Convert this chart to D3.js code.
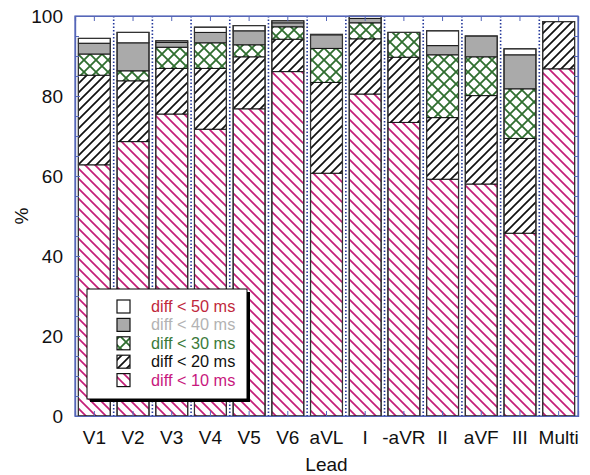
<!DOCTYPE html>
<html><head><meta charset="utf-8">
<script src="https://cdn.jsdelivr.net/npm/d3@7"></script>
<style>
body{margin:0;background:#fff;}
svg{display:block;font-family:"Liberation Sans",Arial,Helvetica,sans-serif;}
</style></head>
<body><svg id="c" width="590" height="475"></svg>
<script>
// Categories (leads)
const leads = ["V1","V2","V3","V4","V5","V6","aVL","I","-aVR","II","aVF","III","Multi"];
// Cumulative percentages: share of beats with |diff| below the threshold
const lt10 = [62.8,68.6,75.5,71.7,76.8,86.1,60.7,80.5,73.4,59.2,58.0,45.7,86.8];
const lt20 = [85.2,83.8,86.9,86.9,89.8,94.2,83.4,94.3,89.7,74.6,80.1,69.4,98.6];
const lt30 = [90.5,86.3,92.2,93.3,92.8,97.3,91.9,98.3,95.9,90.3,89.8,81.8,98.6];
const lt40 = [93.2,93.3,93.4,95.9,96.3,98.3,95.3,99.4,95.9,92.6,95.0,90.3,98.6];
const lt50 = [94.4,95.9,93.8,97.2,97.6,98.8,95.4,99.9,95.9,96.3,95.0,91.8,98.6];
const seriesNames = ["diff < 10 ms","diff < 20 ms","diff < 30 ms","diff < 40 ms","diff < 50 ms"];
const yTicks = [0,20,40,60,80,100];

const svg = d3.select("#c");
const L = 75, R = 578, T = 16, B = 416;
const x = d3.scaleBand().domain(leads).range([L,R]).paddingInner(0.175).paddingOuter(0.0875);
const y = d3.scaleLinear().domain([0,100]).range([B,T]);

const defs = svg.append("defs");
function hatch(id, size, d, color, w, bg){
  const p = defs.append("pattern").attr("id",id).attr("patternUnits","userSpaceOnUse")
    .attr("width",size).attr("height",size);
  p.append("rect").attr("width",size).attr("height",size).attr("fill",bg||"#fff");
  p.append("path").attr("d",d).attr("stroke",color).attr("stroke-width",w).attr("fill","none");
}
const s10=10, s20=9, s30=12;
hatch("p10", s10, `M0,0L${s10},${s10}M${-s10/2},${s10/2}L${s10/2},${s10*1.5}M${s10/2},${-s10/2}L${s10*1.5},${s10/2}`, "#c41e78", 1.7);
hatch("p20", s20, `M0,${s20}L${s20},0M${-s20/2},${s20/2}L${s20/2},${-s20/2}M${s20/2},${s20*1.5}L${s20*1.5},${s20/2}`, "#111", 1.7);
hatch("p30", s30, `M0,0L${s30},${s30}M0,${s30}L${s30},0`, "#2f6e2f", 1.8);
const fills = ["url(#p10)","url(#p20)","url(#p30)","#aaaaaa","#ffffff"];
const textColors = ["#c8187e","#111111","#3a7a3a","#b3b3b3","#c0283c"];

// frame
svg.append("rect").attr("x",L).attr("y",T).attr("width",R-L).attr("height",B-T)
  .attr("fill","none").attr("stroke","#5566b8").attr("stroke-width",1.2);

// dotted separators between categories
const step = x.step();
const seps = leads.slice(1).map(c => x(c) - step*x.paddingInner()/2);
svg.append("g").selectAll("line").data(seps).join("line")
  .attr("x1",d=>d).attr("x2",d=>d).attr("y1",T).attr("y2",B)
  .attr("stroke","#24389a").attr("stroke-width",1.6).attr("stroke-dasharray","1.5,2");

// stacked bars
const levels = [lt10,lt20,lt30,lt40,lt50];
const segs = [];
leads.forEach((c,i)=>{
  let prev = 0;
  levels.forEach((arr,k)=>{
    const v = arr[i];
    segs.push({c, k, y0:prev, y1:v});
    prev = Math.max(prev, v);
  });
});
const gBars = svg.append("g");
gBars.selectAll("rect.seg").data(segs.filter(s=>s.y1>s.y0)).join("rect").attr("class","seg")
  .attr("x",d=>x(d.c)).attr("width",x.bandwidth())
  .attr("y",d=>y(d.y1)).attr("height",d=>y(d.y0)-y(d.y1))
  .attr("fill",d=>fills[d.k]).attr("stroke","#111").attr("stroke-width",1);
// outer bar outline
gBars.selectAll("rect.out").data(leads).join("rect").attr("class","out")
  .attr("x",d=>x(d)).attr("width",x.bandwidth())
  .attr("y",(d,i)=>y(Math.max(lt10[i],lt20[i],lt30[i],lt40[i],lt50[i])))
  .attr("height",(d,i)=>B-y(Math.max(lt10[i],lt20[i],lt30[i],lt40[i],lt50[i])))
  .attr("fill","none").attr("stroke","#333").attr("stroke-width",1.2);

// axes
const fontSize = 19;
const minor = d3.range(0,101,5);
svg.append("g").attr("transform",`translate(${L},0)`)
  .call(d3.axisLeft(y).tickValues(yTicks).tickSize(-5).tickPadding(12).tickFormat(d3.format("d")));
svg.append("g").attr("transform",`translate(${L},0)`)
  .call(d3.axisLeft(y).tickValues(minor).tickSize(-4).tickFormat(""));
svg.append("g").attr("transform",`translate(${R},0)`)
  .call(d3.axisRight(y).tickValues(minor).tickSize(-4).tickFormat(""));
svg.append("g").attr("transform",`translate(0,${T})`)
  .call(d3.axisTop(x).tickSize(-5).tickFormat(""));
svg.append("g").attr("transform",`translate(0,${B})`)
  .call(d3.axisBottom(x).tickSize(-5).tickPadding(15));
svg.selectAll(".domain").attr("stroke","#5566b8").attr("stroke-width",1.2);
svg.selectAll(".tick line").attr("stroke","#5566b8");
svg.selectAll(".tick text").attr("font-size",fontSize).attr("fill","#111")
  .attr("font-family","'Liberation Sans',Arial,sans-serif");

svg.append("text").attr("transform",`translate(28,216) rotate(-90)`).attr("text-anchor","middle")
  .attr("font-size",fontSize).attr("fill","#111").text("%");
svg.append("text").attr("x",(L+R)/2).attr("y",471).attr("text-anchor","middle")
  .attr("font-size",fontSize).attr("fill","#111").text("Lead");

// legend
const lg = svg.append("g");
const lx = 87, ly = 289, lw = 160, lh = 110;
lg.append("rect").attr("x",lx+3).attr("y",ly+3).attr("width",lw).attr("height",lh).attr("fill","#000");
lg.append("rect").attr("x",lx).attr("y",ly).attr("width",lw).attr("height",lh).attr("fill","#fff")
  .attr("stroke","#000").attr("stroke-width",1);
const order = [4,3,2,1,0];
order.forEach((k,j)=>{
  const cy = 306.5 + j*18.4;
  lg.append("rect").attr("x",117).attr("y",cy-6.5).attr("width",13).attr("height",13)
    .attr("fill",fills[k]).attr("stroke","#111").attr("stroke-width",1.2);
  lg.append("text").attr("x",151).attr("y",cy+5.5).attr("font-size",16.3)
    .attr("fill",textColors[k]).text(seriesNames[k]);
});
</script></body></html>
